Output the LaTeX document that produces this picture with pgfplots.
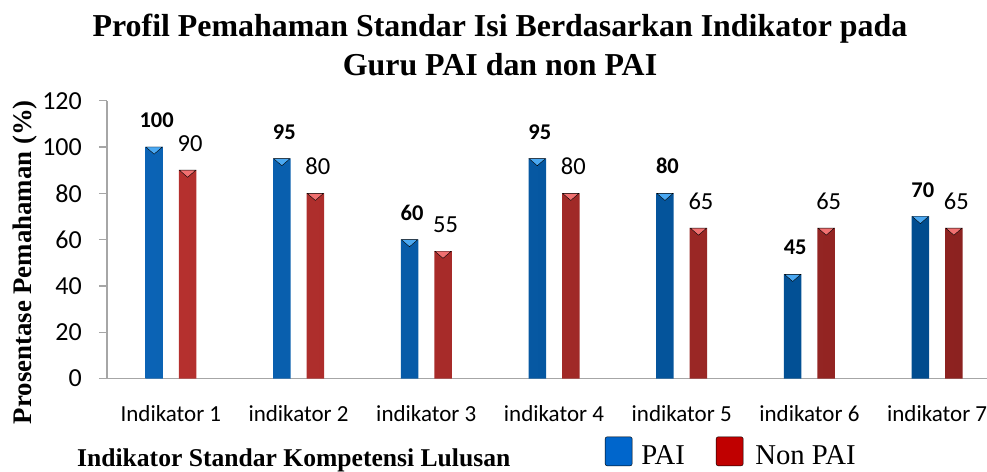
\documentclass[border=0pt]{standalone}
\usepackage{pgfplots}
\pgfplotsset{compat=1.18}
\usepackage{pgfplotstable}
\usepackage{fontspec}
\setmainfont{Liberation Serif}
\newfontfamily\calibri{Carlito}
\definecolor{bL}{HTML}{0B63B5}
\definecolor{bM}{HTML}{2384DA}
\definecolor{bR}{HTML}{004C8E}
\definecolor{bT}{HTML}{4AA8F2}
\definecolor{rL}{HTML}{B5302E}
\definecolor{rM}{HTML}{DA423E}
\definecolor{rR}{HTML}{8C2220}
\definecolor{rT}{HTML}{F07070}
\definecolor{legB}{HTML}{0066CC}
\definecolor{legR}{HTML}{C00000}
\definecolor{axgray}{HTML}{A6A6A6}

\pgfplotstableread{
x pai nonpai
1 100 90
2 95 80
3 60 55
4 95 80
5 80 65
6 45 65
7 70 65
}\datatable

\begin{document}
\begin{tikzpicture}
\useasboundingbox (-107pt,-92.5pt) rectangle (880pt,378.5pt);
\begin{axis}[
  at={(0pt,0pt)}, anchor=south west,
  scale only axis, width=894pt, height=277.8pt,
  xmin=0.5, xmax=7.5, ymin=0, ymax=120,
  ytick={0,20,...,120},
  xtick={1,...,7},
  xticklabels={Indikator 1, indikator 2, indikator 3, indikator 4, indikator 5, indikator 6, indikator 7},
  axis x line*=bottom, axis y line*=left,
  axis line style={draw=axgray, line width=1.5pt},
  tick align=outside,
  major tick length=8pt,
  ytick style={draw=axgray, line width=1.2pt},
  xtick style={draw=none},
  /pgf/number format/assume math mode=true,
  yticklabel style={font=\calibri\fontsize{26}{26}\selectfont, inner sep=0pt, anchor=east, xshift=-17pt},
  xticklabel style={font=\calibri\fontsize{23}{23}\selectfont, inner sep=0pt, anchor=north, yshift=-19pt},
  clip=false,
  title={Profil Pemahaman Standar Isi Berdasarkan Indikator pada\\Guru PAI dan non PAI},
  title style={font=\bfseries\fontsize{31.9}{39}\selectfont, align=center, inner sep=0pt,
    at={(axis description cs:0.4396,1.067)}, anchor=south},
  ylabel={Prosentase Pemahaman (\%)},
  ylabel style={font=\bfseries\fontsize{26.8}{27}\selectfont, inner sep=0pt,
    at={(axis description cs:-0.0839,0.419)}, anchor=base, rotate=0},
  xlabel={Indikator Standar Kompetensi Lulusan},
  xlabel style={font=\bfseries\fontsize{25.6}{26}\selectfont, inner sep=0pt,
    at={(axis description cs:-0.0336,-0.3175)}, anchor=base west},
  legend columns=2,
  legend style={draw=none, fill=none, inner sep=0pt, outer sep=0pt,
    at={(axis description cs:0.557,-0.315)}, anchor=south west,
    font=\fontsize{28.7}{29}\selectfont,
    /tikz/every even column/.append style={column sep=31pt},
    nodes={inner sep=0pt}},
  legend image code/.code={\fill[#1, rounded corners=2pt] (0pt,-10.5pt) rectangle (27pt,18.5pt);},
]
\addlegendimage{fill=legB}
\addlegendentry{\hspace{9pt}PAI}
\addlegendimage{fill=legR}
\addlegendentry{\hspace{12pt}Non PAI}

\addplot[ybar, bar width=17.5pt, bar shift=-16.75pt, draw=none,
  left color=bL, middle color=bM, right color=bR,
  nodes near coords,
  nodes near coords style={font=\calibri\bfseries\fontsize{22.5}{22.5}\selectfont, text=black, inner sep=0pt, anchor=south, yshift=19pt, xshift=-14.25pt},
  forget plot] table[x=x, y=pai] {\datatable};
\addplot[ybar, bar width=17.5pt, bar shift=16.75pt, draw=none,
  left color=rL, middle color=rM, right color=rR,
  nodes near coords,
  nodes near coords style={font=\calibri\fontsize{24.5}{24.5}\selectfont, text=black, inner sep=0pt, anchor=south, yshift=18.4pt, xshift=19.25pt},
  forget plot] table[x=x, y=nonpai] {\datatable};
\addplot[only marks, mark=triangle*, mark size=9.5pt,
  mark options={rotate=180, yscale=0.5, fill=bT, draw=none},
  xshift=-16.75pt, yshift=-2.4pt, forget plot] table[x=x, y=pai] {\datatable};
\addplot[only marks, mark=triangle*, mark size=9.5pt,
  mark options={rotate=180, yscale=0.5, fill=rT, draw=none},
  xshift=16.75pt, yshift=-2.4pt, forget plot] table[x=x, y=nonpai] {\datatable};
\end{axis}
\end{tikzpicture}
\end{document}
